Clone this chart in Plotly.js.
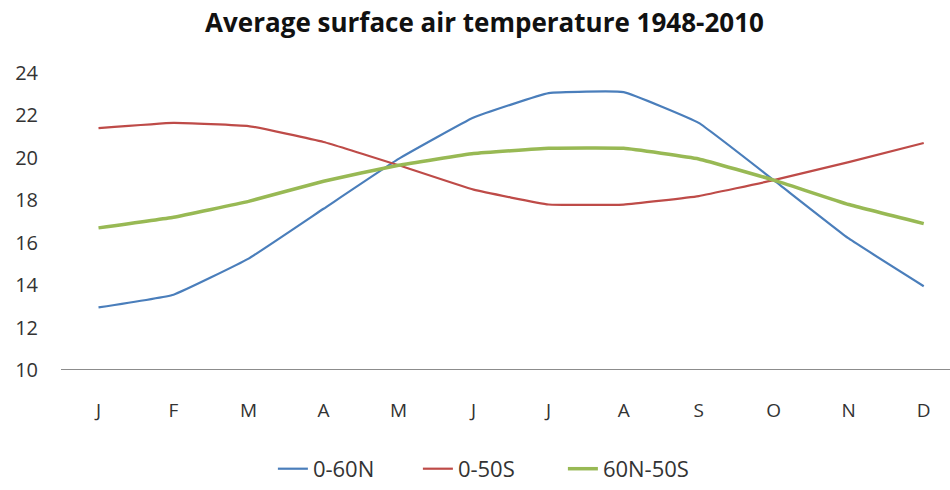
<!DOCTYPE html>
<html><head><meta charset="utf-8">
<script src="https://cdn.plot.ly/plotly-3.0.1.min.js"></script>
<style>html,body{margin:0;padding:0;background:#fff}#chart{width:950px;height:490px}</style>
</head><body><div id="chart"></div>
<script>
const months = ["J","F","M","A","M","J","J","A","S","O","N","D"];
const seriesNames = ["0-60N","0-50S","60N-50S"];
const north = [12.95,13.55,15.25,17.6,19.95,21.9,23.05,23.1,21.65,18.95,16.2,13.95];
const south = [21.4,21.65,21.5,20.75,19.65,18.5,17.8,17.8,18.2,18.95,19.8,20.7];
const global = [16.7,17.2,17.95,18.9,19.65,20.2,20.45,20.45,19.95,18.95,17.8,16.9];
const yTicks = [10,12,14,16,18,20,22,24];

const idx = months.map((m,i)=>i);
const colors = ["#4a7ebb","#be4b48","#98b954"];
const widths = [2.2,2.2,3.5];
const vals = [north, south, global];
const traces = vals.map((v,k)=>({
  x: idx, y: v, type:"scatter", mode:"lines", name: seriesNames[k],
  line:{color:colors[k], width:widths[k], shape:"spline", smoothing:0.3}
}));

const layout = {
  width:950, height:490,
  margin:{l:61, r:0, t:73, b:120},
  paper_bgcolor:"#fff", plot_bgcolor:"#fff",
  font:{family:"Open Sans, Liberation Sans, sans-serif", color:"#333"},
  title:{text:"<b>Average surface air temperature 1948-2010</b>", x:0.51, xanchor:"center", y:0.953, yanchor:"middle",
    font:{size:26, color:"#111", family:"Open Sans, sans-serif"}},
  xaxis:{tickmode:"array", tickvals:idx, ticktext:months, range:[-0.5,11.35],
    showgrid:false, zeroline:false, showline:false, ticks:"",
    tickfont:{size:19, color:"#333"}, ticklabelstandoff:27, fixedrange:true},
  yaxis:{range:[10,24], tickvals:yTicks, showgrid:false, zeroline:false, showline:false, ticks:"",
    tickfont:{size:20, color:"#333"}, ticklabelstandoff:22, fixedrange:true},
  shapes:[{type:"line", xref:"paper", yref:"y", x0:0, x1:1, y0:10, y1:10, line:{color:"#8c8c8c", width:2}}],
  legend:{orientation:"h", x:0.483, xanchor:"center", y:-0.333, yanchor:"middle",
    font:{size:22, color:"#333"}, tracegroupgap:0, entrywidth:100, entrywidthmode:"pixels"},
  showlegend:true
};
Plotly.newPlot("chart", traces, layout, {displayModeBar:false, staticPlot:true});
</script></body></html>
